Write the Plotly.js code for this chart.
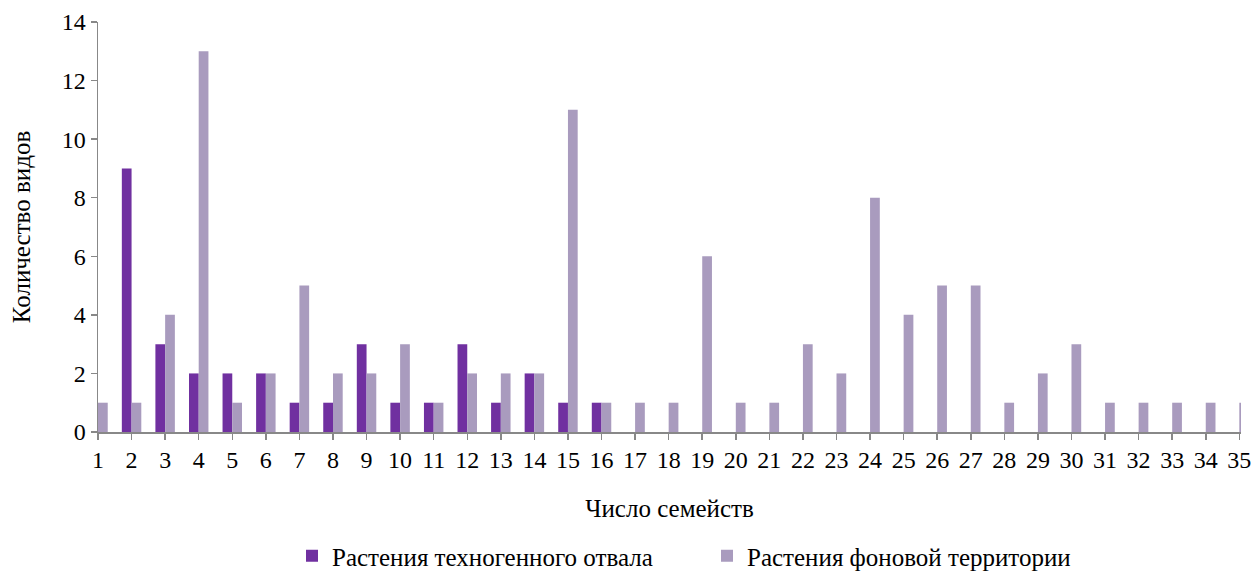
<!DOCTYPE html>
<html>
<head>
<meta charset="utf-8">
<script src="https://cdn.plot.ly/plotly-3.0.1.min.js"></script>
<style>html,body{margin:0;padding:0;background:#fff;}#chart{width:1253px;height:572px;}</style>
</head>
<body>
<div id="chart"></div>
<script>
const categories = [1,2,3,4,5,6,7,8,9,10,11,12,13,14,15,16,17,18,19,20,21,22,23,24,25,26,27,28,29,30,31,32,33,34,35];
const dumpPlants = [0,9,3,2,2,2,1,1,3,1,1,3,1,2,1,1,0,0,0,0,0,0,0,0,0,0,0,0,0,0,0,0,0,0,0];
const backgroundPlants = [1,1,4,13,1,2,5,2,2,3,1,2,2,2,11,1,1,1,6,1,1,3,2,8,4,5,5,1,2,3,1,1,1,1,1];
const yTicks = [0,2,4,6,8,10,12,14];

const FAM = 'Liberation Serif';
const f = (s) => ({family: FAM, size: s, color: '#000'});

const traces = [
  {type: 'bar', name: 'Растения техногенного отвала', x: categories, y: dumpPlants,
   marker: {color: '#7030A0'}},
  {type: 'bar', name: 'Растения фоновой территории', x: categories, y: backgroundPlants,
   marker: {color: '#A99BBE'}}
];

const layout = {
  width: 1253, height: 572,
  margin: {l: 98, r: 12, t: 22, b: 140},
  paper_bgcolor: '#fff', plot_bgcolor: '#fff',
  barmode: 'group', bargap: 0.42, bargroupgap: 0,
  showlegend: true,
  font: f(25),
  xaxis: {
    automargin: false,
    range: [1, 35.05], tickmode: 'array', tickvals: categories, ticktext: categories.map(String),
    showgrid: false, zeroline: false, showline: true, linecolor: '#888', linewidth: 1.5,
    ticks: 'outside', ticklen: 6, tickcolor: '#888', tickwidth: 1.5,
    tickfont: f(24),
    title: {text: 'Число семейств', font: f(25), standoff: 27}
  },
  yaxis: {
    automargin: false,
    range: [0, 14], tickmode: 'array', tickvals: yTicks,
    showgrid: false, zeroline: false, showline: true, linecolor: '#888', linewidth: 1.5,
    ticks: 'outside', ticklen: 6, tickcolor: '#888', tickwidth: 1.5,
    tickfont: f(24),
    title: {text: 'Количество видов', font: f(25), standoff: 24}
  },
  legend: {
    orientation: 'h', xref: 'container', yref: 'container',
    x: 292/1253, xanchor: 'left', y: 16/572, yanchor: 'middle',
    font: f(25), entrywidth: 370, itemwidth: 30
  }
};

Plotly.newPlot('chart', traces, layout, {displayModeBar: false, staticPlot: true});
</script>
</body>
</html>
